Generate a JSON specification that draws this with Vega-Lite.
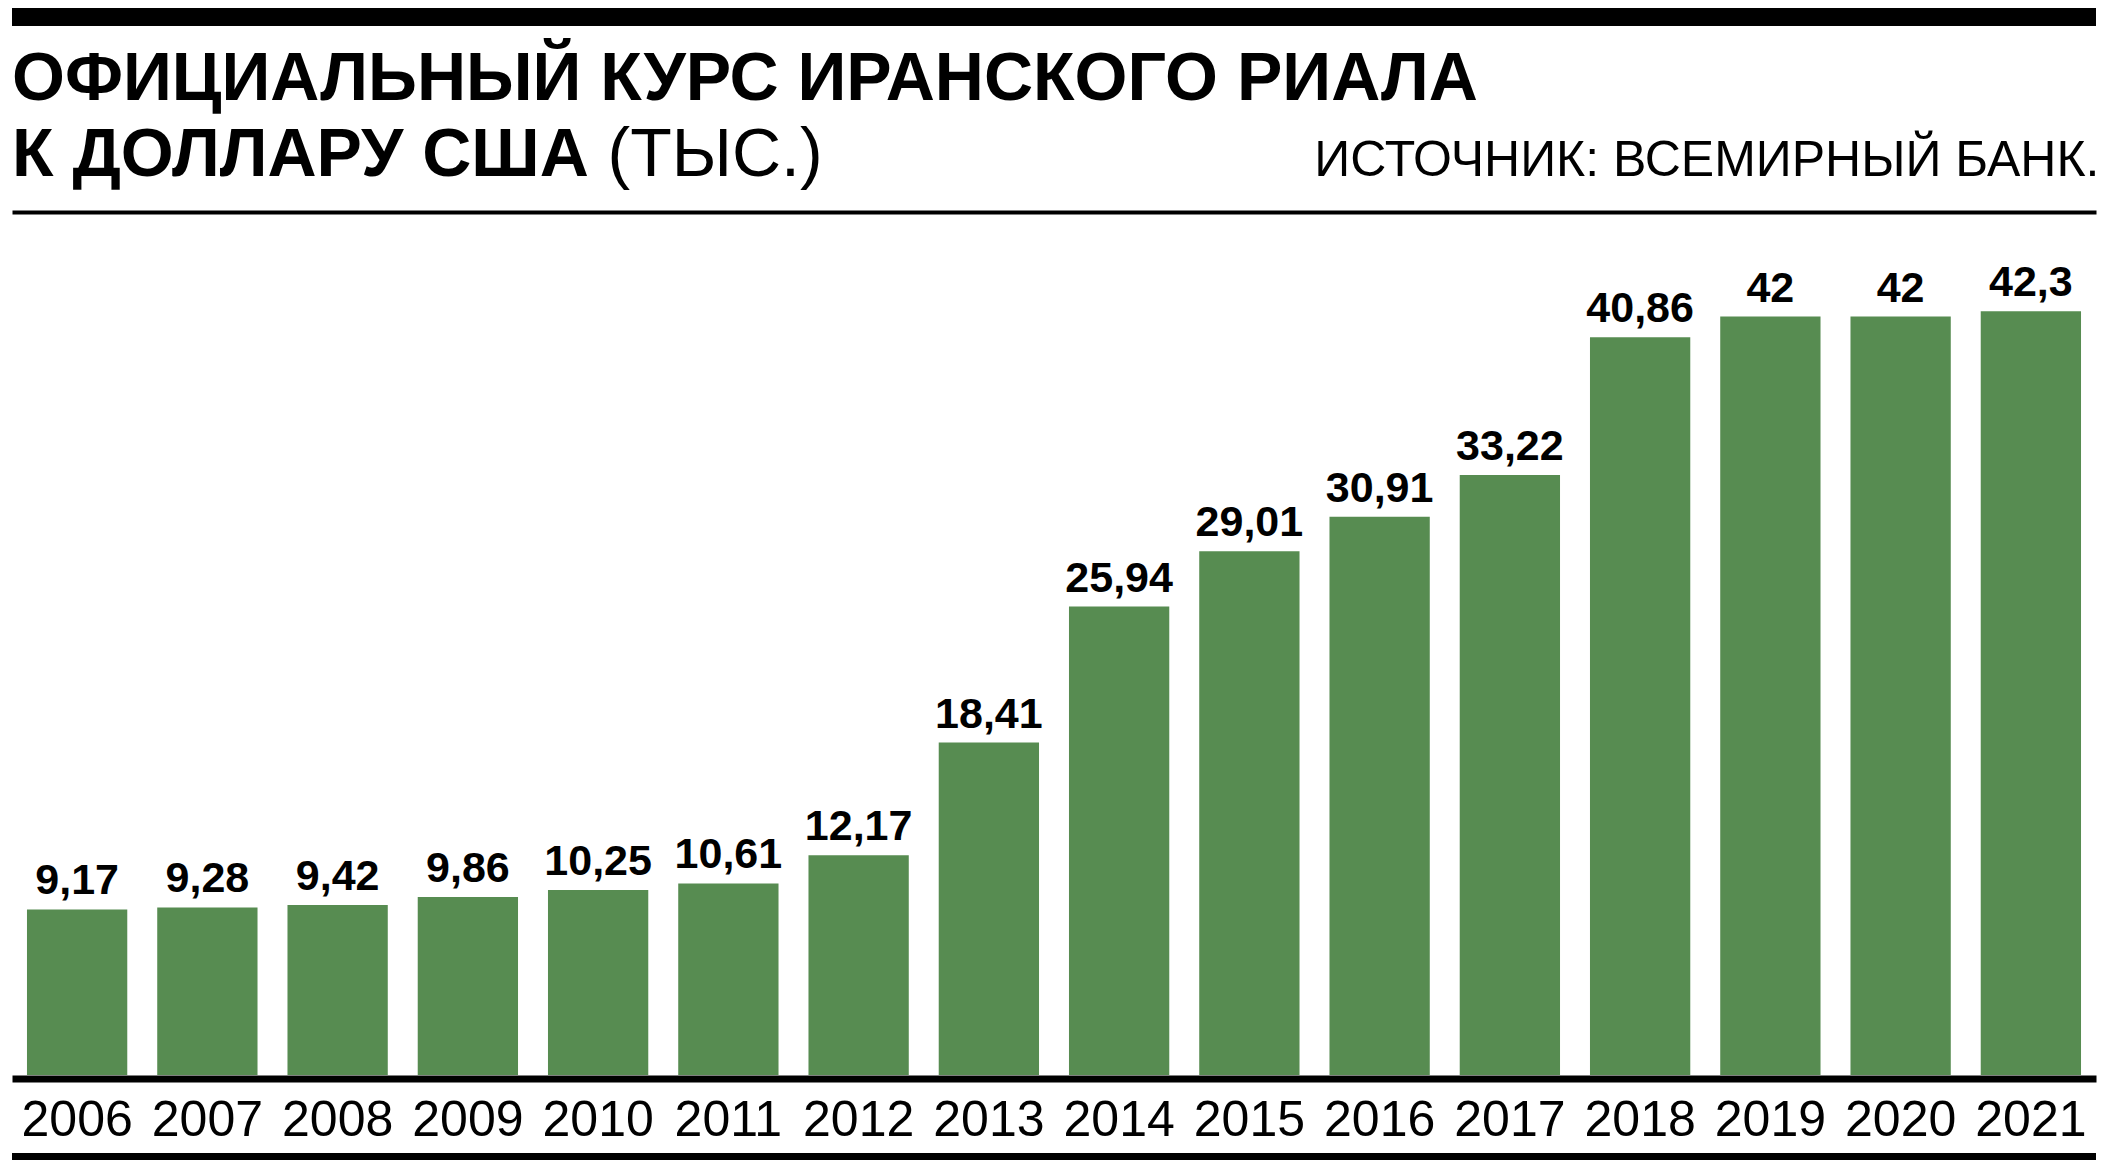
{
  "$schema": "https://vega.github.io/schema/vega-lite/v6.json",
  "width": 2084,
  "height": 863,
  "autosize": {"type": "none"},
  "padding": {"left": 12, "top": 212, "right": 18, "bottom": 97},
  "background": "white",
  "title": {
    "text": ["ОФИЦИАЛЬНЫЙ КУРС ИРАНСКОГО РИАЛА", "К ДОЛЛАРУ США"],
    "anchor": "start",
    "frame": "group",
    "font": "Liberation Sans",
    "fontSize": 68,
    "fontWeight": "bold",
    "color": "black",
    "lineHeight": 76,
    "offset": 10,
    "dy": 192
  },
  "config": {
    "view": {"stroke": null},
    "axis": {"grid": false},
    "locale": {"number": {"decimal": ",", "thousands": " ", "grouping": [3], "currency": ["", ""]}}
  },
  "data": {
    "values": [
      {"year": "2006", "value": 9.17},
      {"year": "2007", "value": 9.28},
      {"year": "2008", "value": 9.42},
      {"year": "2009", "value": 9.86},
      {"year": "2010", "value": 10.25},
      {"year": "2011", "value": 10.61},
      {"year": "2012", "value": 12.17},
      {"year": "2013", "value": 18.41},
      {"year": "2014", "value": 25.94},
      {"year": "2015", "value": 29.01},
      {"year": "2016", "value": 30.91},
      {"year": "2017", "value": 33.22},
      {"year": "2018", "value": 40.86},
      {"year": "2019", "value": 42},
      {"year": "2020", "value": 42},
      {"year": "2021", "value": 42.3}
    ]
  },
  "layer": [
    {
      "mark": {"type": "bar", "color": "#578C51"},
      "encoding": {
        "x": {
          "field": "year", "type": "ordinal",
          "scale": {"paddingInner": 0.23, "paddingOuter": 0.115},
          "axis": {
            "orient": "bottom", "title": null,
            "domainColor": "black", "domainWidth": 7, "offset": 3.5,
            "ticks": false, "tickSize": 0,
            "labelFont": "Liberation Sans", "labelFontSize": 50, "labelColor": "black",
            "labelPadding": 17, "labelAngle": 0
          }
        },
        "y": {
          "field": "value", "type": "quantitative",
          "scale": {"domain": [0, 47.79], "nice": false, "zero": true},
          "axis": {
            "title": "(ТЫС.)", "titleAngle": 0, "titleAlign": "left", "titleBaseline": "alphabetic",
            "titleX": 595, "titleY": -37,
            "titleFont": "Liberation Sans", "titleFontSize": 68, "titleFontWeight": "normal", "titleColor": "black",
            "labels": false, "ticks": false, "domain": false, "grid": false
          }
        }
      }
    },
    {
      "mark": {
        "type": "text", "baseline": "alphabetic", "dy": -15,
        "font": "Liberation Sans",
        "fontWeight": "bold", "fontSize": 43, "color": "black"
      },
      "encoding": {
        "x": {
          "field": "year", "type": "ordinal",
          "axis": {
            "orient": "top",
            "title": "ИСТОЧНИК: ВСЕМИРНЫЙ БАНК.",
            "titleX": 2087, "titleY": -37, "titleAlign": "right", "titleBaseline": "alphabetic",
            "titleFont": "Liberation Sans", "titleFontSize": 50, "titleFontWeight": "normal", "titleColor": "black",
            "labels": false, "ticks": false, "domainColor": "black", "domainWidth": 4
          }
        },
        "y": {"field": "value", "type": "quantitative", "axis": null},
        "text": {"field": "value", "type": "quantitative", "format": "~g"}
      }
    },
    {
      "mark": {"type": "rule", "color": "black", "strokeWidth": 17},
      "encoding": {"y": {"datum": 58.6, "type": "quantitative", "axis": null}}
    },
    {
      "mark": {"type": "rule", "color": "black", "strokeWidth": 7},
      "encoding": {"y": {"datum": -4.51, "type": "quantitative", "axis": null}}
    }
  ],
  "resolve": {"axis": {"x": "independent", "y": "independent"}}
}
